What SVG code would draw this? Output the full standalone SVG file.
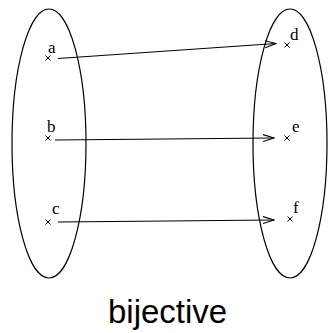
<svg xmlns="http://www.w3.org/2000/svg" width="328" height="333" viewBox="0 0 328 333">
<style>
.set{fill:none;stroke:#000;stroke-width:1.2}
.lbl{font-family:"Liberation Serif","Times New Roman",serif;font-size:17px;fill:#000}
.pt{stroke:#000;stroke-width:1;fill:none}
.edge{stroke:#000;stroke-width:1.1;fill:none;marker-end:url(#arr)}
.title{font-family:"Liberation Sans",Arial,sans-serif;font-size:33px;fill:#000}
</style>
<defs>
<marker id="arr" markerUnits="userSpaceOnUse" markerWidth="12" markerHeight="9" refX="11" refY="4" orient="auto">
<path d="M0,0.5 L11,4 L0,7.5" fill="none" stroke="#000" stroke-width="1"/>
</marker>
<path id="x" d="M-2.5,-2.5 L2.5,2.5 M-2.5,2.5 L2.5,-2.5"/>
</defs>
<rect width="328" height="333" fill="#fff"/>
<g id="domain"><ellipse class="set" cx="49" cy="143.5" rx="37" ry="134.5"/></g>
<g id="codomain"><ellipse class="set" cx="290" cy="143.5" rx="37" ry="134.5"/></g>
<g id="a"><use href="#x" class="pt" x="48" y="58"/><text class="lbl" x="48" y="53">a</text></g>
<g id="b"><use href="#x" class="pt" x="48" y="138"/><text class="lbl" x="47" y="132">b</text></g>
<g id="c"><use href="#x" class="pt" x="48" y="222"/><text class="lbl" x="52" y="214">c</text></g>
<g id="d"><use href="#x" class="pt" x="287" y="45"/><text class="lbl" x="290" y="40">d</text></g>
<g id="e"><use href="#x" class="pt" x="287" y="138"/><text class="lbl" x="292" y="132">e</text></g>
<g id="f"><use href="#x" class="pt" x="290" y="219"/><text class="lbl" x="293" y="213">f</text></g>
<g id="connectors">
<line class="edge" x1="58" y1="58.5" x2="276" y2="43.5"/>
<line class="edge" x1="55" y1="140" x2="274" y2="138"/>
<line class="edge" x1="58" y1="222" x2="274" y2="220"/>
</g>
<g id="caption"><text class="title" x="108" y="323">bijective</text></g>
</svg>
